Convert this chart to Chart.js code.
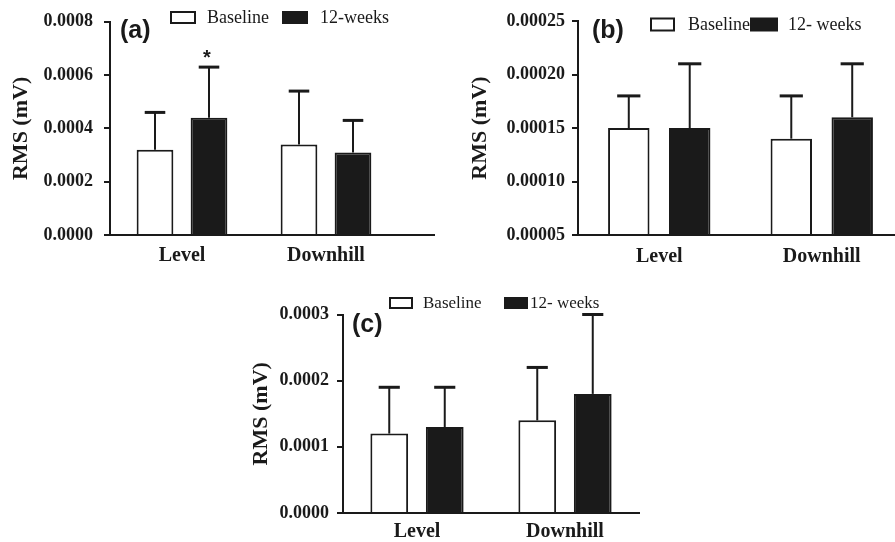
<!DOCTYPE html>
<html>
<head>
<meta charset="utf-8">
<title>RMS (mV) – Level / Downhill</title>
<script src="https://cdn.jsdelivr.net/npm/chart.js@4.4.0/dist/chart.umd.min.js"></script>
<style>
  html, body { margin: 0; padding: 0; background: #fff; overflow: hidden; }
  body { width: 895px; height: 542px; position: relative; }
  canvas { position: absolute; }
</style>
</head>
<body>
<canvas id="chartA" width="445" height="271" style="left:0;top:0"></canvas>
<canvas id="chartB" width="465" height="271" style="left:445px;top:0"></canvas>
<canvas id="chartC" width="420" height="280" style="left:240px;top:271px"></canvas>
<script>
"use strict";

// ? data (mean + SD, SD drawn upward only)
const categories = ["Level", "Downhill"];

// (a)
const namesA = ["Baseline", "12-weeks"];
const baselineA = [0.00032, 0.00034];
const baselineSdA = [0.00014, 0.0002];
const weeksA = [0.00044, 0.00031];
const weeksSdA = [0.00019, 0.00012];
const starsA = ["*", ""];
const tickValuesA = [0, 0.0002, 0.0004, 0.0006, 0.0008];
const tickLabelsA = ["0.0000", "0.0002", "0.0004", "0.0006", "0.0008"];

// (b)
const namesB = ["Baseline", "12- weeks"];
const baselineB = [0.00015, 0.00014];
const baselineSdB = [0.00003, 0.00004];
const weeksB = [0.00015, 0.00016];
const weeksSdB = [0.00006, 0.00005];
const tickValuesB = [0.00005, 0.0001, 0.00015, 0.0002, 0.00025];
const tickLabelsB = ["0.00005", "0.00010", "0.00015", "0.00020", "0.00025"];

// (c)
const namesC = ["Baseline", "12- weeks"];
const baselineC = [0.00012, 0.00014];
const baselineSdC = [0.00007, 0.00008];
const weeksC = [0.00013, 0.00018];
const weeksSdC = [0.00006, 0.00012];
const tickValuesC = [0, 0.0001, 0.0002, 0.0003];
const tickLabelsC = ["0.0000", "0.0001", "0.0002", "0.0003"];

const INK = "#1a1a1a";
const SERIF = "'Liberation Serif', 'Times New Roman', serif";
const SANS = "'Liberation Sans', Arial, sans-serif";

//* error bars, asterisk, legend, panel letter, extended x axis line
const deco = {
  id: "deco",
  afterDatasetsDraw(chart, args, opts) {
    const ctx = chart.ctx;
    const y = chart.scales.y;
    const area = chart.chartArea;
    ctx.save();
    ctx.strokeStyle = INK;
    ctx.fillStyle = INK;

    // x axis line
    ctx.lineWidth = 2;
    ctx.beginPath();
    ctx.moveTo(area.left - 1, area.bottom);
    ctx.lineTo(area.right + opts.axisExtend, area.bottom);
    ctx.stroke();

    chart.data.datasets.forEach((ds, i) => {
      const meta = chart.getDatasetMeta(i);
      meta.data.forEach((bar, j) => {
        const top = y.getPixelForValue(ds.data[j] + ds.sd[j]);
        const half = bar.width * 0.28;
        ctx.lineWidth = 2;
        ctx.beginPath();
        ctx.moveTo(bar.x, bar.y);
        ctx.lineTo(bar.x, top);
        ctx.stroke();
        ctx.lineWidth = 3;
        ctx.beginPath();
        ctx.moveTo(bar.x - half, top);
        ctx.lineTo(bar.x + half, top);
        ctx.stroke();
        if (ds.stars && ds.stars[j]) {
          ctx.font = "bold 20px " + SANS;
          ctx.textAlign = "center";
          ctx.textBaseline = "alphabetic";
          ctx.fillText(ds.stars[j], bar.x - 2, top - 3);
        }
      });
    });

    // legend
    const lg = opts.legend;
    chart.data.datasets.forEach((ds, i) => {
      const it = lg.items[i];
      ctx.lineWidth = 2;
      if (i === 0) {
        ctx.fillStyle = "#fff";
        ctx.fillRect(it.box, lg.y - lg.h / 2, it.w, lg.h);
        ctx.strokeRect(it.box, lg.y - lg.h / 2, it.w, lg.h);
      } else {
        ctx.fillStyle = INK;
        ctx.fillRect(it.box - 1, lg.y - lg.h / 2 - 1, it.w + 2, lg.h + 2);
      }
      ctx.fillStyle = INK;
      ctx.font = lg.size + "px " + SERIF;
      ctx.textAlign = "left";
      ctx.textBaseline = "middle";
      ctx.fillText(ds.label, it.text, lg.y + 1);
    });

    // panel letter
    ctx.font = "bold 25px " + SANS;
    ctx.textAlign = "left";
    ctx.textBaseline = "middle";
    ctx.fillText(opts.letter, opts.letterX, opts.letterY);
    ctx.restore();
  },
};

function makePanel(id, p) {
  const datasets = [
    {
      label: p.names[0],
      data: p.baseline,
      sd: p.baselineSd,
      backgroundColor: "#ffffff",
      borderColor: INK,
      borderWidth: 2,
    },
    {
      label: p.names[1],
      data: p.weeks,
      sd: p.weeksSd,
      stars: p.stars,
      backgroundColor: INK,
      borderColor: INK,
      borderWidth: 2,
    },
  ];

  return new Chart(document.getElementById(id), {
    type: "bar",
    data: { labels: categories, datasets },
    options: {
      responsive: false,
      animation: false,
      devicePixelRatio: 1,
      categoryPercentage: 0.75,
      barPercentage: 0.68,
      layout: { padding: { left: 0, top: p.top, right: p.right, bottom: 0 } },
      plugins: {
        legend: { display: false },
        tooltip: { enabled: false },
        deco: p.deco,
      },
      scales: {
        x: {
          grid: { display: false, drawTicks: false },
          border: { display: false },
          ticks: {
            color: INK,
            padding: p.xPad,
            font: { family: SERIF, size: 20, weight: "bold" },
          },
          afterFit: (s) => {
            s.height = p.xHeight;
          },
        },
        y: {
          min: p.tickValues[0],
          max: p.tickValues[p.tickValues.length - 1],
          afterBuildTicks: (s) => {
            s.ticks = p.tickValues.map((v) => ({ value: v }));
          },
          afterFit: (s) => {
            s.width = p.left;
          },
          ticks: {
            color: INK,
            padding: p.yPad,
            font: { family: SERIF, size: 18, weight: "bold" },
            callback: (v, i) => p.tickLabels[i],
          },
          grid: {
            drawOnChartArea: false,
            drawTicks: true,
            tickLength: 6,
            color: INK,
            lineWidth: 2,
          },
          border: { display: true, color: INK, width: 2 },
          title: {
            display: true,
            text: "RMS (mV)",
            color: INK,
            font: { family: SERIF, size: 22, weight: "bold" },
            padding: { top: p.titlePad, bottom: 0 },
          },
        },
      },
    },
    plugins: [deco],
  });
}

makePanel("chartA", {
  names: namesA,
  baseline: baselineA,
  baselineSd: baselineSdA,
  weeks: weeksA,
  weeksSd: weeksSdA,
  stars: starsA,
  tickValues: tickValuesA,
  tickLabels: tickLabelsA,
  left: 110, top: 21, right: 47, xHeight: 36,
  xPad: 9, yPad: 11, titlePad: 8,
  deco: {
    axisExtend: 37,
    letter: "(a)", letterX: 120, letterY: 31,
    legend: {
      y: 17.5, h: 11, size: 18,
      items: [{ box: 171, w: 24, text: 207 }, { box: 283, w: 24, text: 320 }],
    },
  },
});

makePanel("chartB", {
  names: namesB,
  baseline: baselineB,
  baselineSd: baselineSdB,
  weeks: weeksB,
  weeksSd: weeksSdB,
  stars: null,
  tickValues: tickValuesB,
  tickLabels: tickLabelsB,
  left: 133, top: 21, right: 7, xHeight: 36,
  xPad: 10, yPad: 7, titlePad: 22,
  deco: {
    axisExtend: 7,
    letter: "(b)", letterX: 147, letterY: 31,
    legend: {
      y: 24.5, h: 12, size: 18,
      items: [{ box: 206, w: 23, text: 243 }, { box: 306, w: 26, text: 343 }],
    },
  },
});

makePanel("chartC", {
  names: namesC,
  baseline: baselineC,
  baselineSd: baselineSdC,
  weeks: weeksC,
  weeksSd: weeksSdC,
  stars: null,
  tickValues: tickValuesC,
  tickLabels: tickLabelsC,
  left: 103, top: 43.5, right: 21, xHeight: 38,
  xPad: 7, yPad: 8, titlePad: 8,
  deco: {
    axisExtend: 1,
    letter: "(c)", letterX: 112, letterY: 54,
    legend: {
      y: 32, h: 10, size: 17,
      items: [{ box: 150, w: 22, text: 183 }, { box: 265, w: 22, text: 290 }],
    },
  },
});
</script>
</body>
</html>
